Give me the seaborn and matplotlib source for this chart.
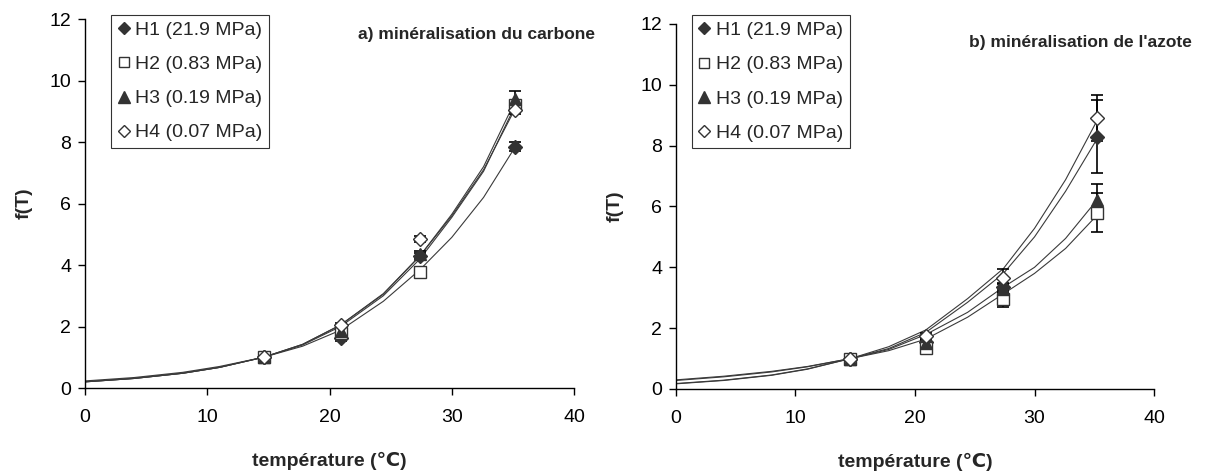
import numpy as np
import pandas as pd
import seaborn as sns
import matplotlib.pyplot as plt
from matplotlib.lines import Line2D

# measured temperatures and the fitted-curve sample points
temps = [14.6, 20.9, 27.4, 35.2]
curve_t = [0, 4, 8, 11, 14.6, 17.8, 20.9, 24.4, 27.4, 30, 32.6, 35.2]

series = ['H1 (21.9 MPa)', 'H2 (0.83 MPa)', 'H3 (0.19 MPa)', 'H4 (0.07 MPa)']

# a) carbon mineralisation
c_h1 = [1.0, 1.62, 4.3, 7.85]
c_h2 = [1.0, 1.8, 3.78, 9.2]
c_h3 = [1.0, 1.85, 4.35, 9.4]
c_h4 = [1.0, 2.05, 4.85, 9.05]
c_err_h1 = [0.05, 0.08, 0.1, 0.15]
c_err_h2 = [0.05, 0.08, 0.1, 0.15]
c_err_h3 = [0.05, 0.08, 0.1, 0.25]
c_err_h4 = [0.05, 0.08, 0.1, 0.15]
c_fit_h1 = [0.23, 0.34, 0.51, 0.7, 1.0, 1.36, 1.88, 2.82, 3.85, 4.9, 6.2, 7.85]
c_fit_h2 = [0.2, 0.31, 0.48, 0.67, 1.0, 1.4, 2.0, 3.0, 4.2, 5.55, 7.05, 9.2]
c_fit_h3 = [0.2, 0.31, 0.48, 0.67, 1.0, 1.42, 2.05, 3.05, 4.3, 5.65, 7.2, 9.35]
c_fit_h4 = [0.2, 0.31, 0.48, 0.67, 1.0, 1.42, 2.05, 3.07, 4.3, 5.6, 7.1, 9.1]

# b) nitrogen mineralisation
n_h1 = [1.0, 1.55, 3.35, 8.3]
n_h2 = [1.0, 1.35, 2.97, 5.8]
n_h3 = [1.0, 1.5, 3.3, 6.2]
n_h4 = [1.0, 1.75, 3.65, 8.9]
n_err_h1 = [0.05, 0.1, 0.15, 1.2]
n_err_h2 = [0.05, 0.08, 0.28, 0.63]
n_err_h3 = [0.05, 0.1, 0.15, 0.55]
n_err_h4 = [0.05, 0.1, 0.3, 0.75]
n_fit_h1 = [0.18, 0.29, 0.46, 0.66, 1.0, 1.33, 1.86, 2.85, 3.8, 5.0, 6.5, 8.2]
n_fit_h2 = [0.3, 0.42, 0.58, 0.74, 1.0, 1.26, 1.64, 2.36, 3.13, 3.8, 4.62, 5.7]
n_fit_h3 = [0.28, 0.4, 0.56, 0.73, 1.0, 1.3, 1.79, 2.52, 3.35, 4.0, 4.95, 6.2]
n_fit_h4 = [0.17, 0.28, 0.45, 0.65, 1.0, 1.39, 1.94, 2.97, 3.96, 5.28, 6.88, 8.8]

sns.set_style("ticks")
plt.rcParams['font.family'] = ['Liberation Sans', 'DejaVu Sans']

dark = '#333333'
styles = {
    series[0]: dict(marker='D', mfc=dark, mec=dark, ms=7),
    series[1]: dict(marker='s', mfc='white', mec=dark, ms=8),
    series[2]: dict(marker='^', mfc=dark, mec=dark, ms=9),
    series[3]: dict(marker='D', mfc='white', mec=dark, ms=7),
}


def draw_panel(ax, points, errs, fits, title, title_pos, leg_pos):
    # fitted curves
    fit_df = pd.DataFrame({
        'T': curve_t * 4,
        'f': sum(fits, []),
        'serie': [s for s in series for _ in curve_t],
    })
    sns.lineplot(data=fit_df, x='T', y='f', units='serie', estimator=None,
                 color='#3a3a3a', lw=0.8, ax=ax, legend=False, zorder=2)
    # measured values with error bars
    for name, vals, err in zip(series, points, errs):
        ax.errorbar(temps, vals, yerr=err, fmt='none', ecolor='black',
                    elinewidth=1.2, capsize=4, capthick=1.2, zorder=3)
        ax.plot(temps, vals, ls='none', zorder=4, **styles[name])

    ax.set_xlim(0, 40)
    ax.set_ylim(0, 12)
    ax.set_xticks(range(0, 41, 10))
    ax.set_yticks(range(0, 13, 2))
    ax.tick_params(direction='out', length=5, width=1, labelsize=14, pad=5, colors='black')
    ax.tick_params(axis='x', pad=10)
    for s in ['left', 'bottom']:
        ax.spines[s].set_color('black')
        ax.spines[s].set_linewidth(1)
    sns.despine(ax=ax)
    ax.set_xlabel('température (℃)', fontsize=14, fontweight='bold', labelpad=19)
    ax.set_ylabel('f(T)', fontsize=14, fontweight='bold', labelpad=12)
    ax.text(title_pos[0], title_pos[1], title, transform=ax.transAxes,
            fontsize=12.5, fontweight='bold', ha='left', va='center', clip_on=False)

    handles = [Line2D([], [], ls='none', **{**styles[n], 'ms': styles[n]['ms'] - 1}) for n in series]
    leg = ax.legend(handles, series, loc='upper left', bbox_to_anchor=leg_pos,
                    fontsize=14, frameon=True, fancybox=False, handlelength=0.6,
                    handletextpad=0.3, borderpad=0.35, labelspacing=0.85, borderaxespad=0)
    leg.get_frame().set_edgecolor('black')
    leg.get_frame().set_linewidth(0.8)


fig = plt.figure(figsize=(12.06, 4.73), dpi=100)
ax1 = fig.add_axes([0.0705, 0.1797, 0.4055, 0.780])
ax2 = fig.add_axes([0.5605, 0.1776, 0.3964, 0.7717])

draw_panel(ax1, [c_h1, c_h2, c_h3, c_h4], [c_err_h1, c_err_h2, c_err_h3, c_err_h4],
           [c_fit_h1, c_fit_h2, c_fit_h3, c_fit_h4],
           'a) minéralisation du carbone', (0.558, 0.959), (0.053, 1.012))
draw_panel(ax2, [n_h1, n_h2, n_h3, n_h4], [n_err_h1, n_err_h2, n_err_h3, n_err_h4],
           [n_fit_h1, n_fit_h2, n_fit_h3, n_fit_h4],
           "b) minéralisation de l'azote", (0.612, 0.948), (0.033, 1.025))

fig.savefig('out.png', dpi=100)
